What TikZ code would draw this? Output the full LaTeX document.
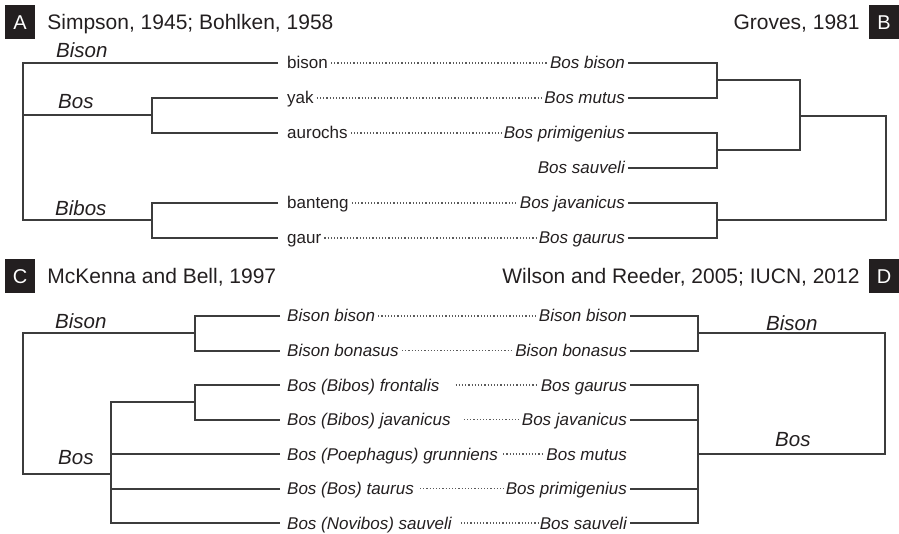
\documentclass[tikz,border=0pt]{standalone}
\usepackage{fontspec}
\setmainfont{Liberation Sans}
\usetikzlibrary{positioning}

\definecolor{boxgray}{HTML}{231F20}
\definecolor{treegray}{HTML}{3C3C3C}
\definecolor{dotgray}{HTML}{5A5A5A}

\tikzset{
  common/.style={font=\fontsize{17}{20}\selectfont, inner sep=0pt, text height=12pt, text depth=0pt, text=boxgray},
  leaf/.style={common, font=\fontsize{17}{20}\selectfont\itshape},
  clade/.style={font=\fontsize{20.5}{24}\selectfont\itshape, inner sep=0pt, text depth=0pt, anchor=south west, text=boxgray},
  title/.style={font=\fontsize{21}{24}\selectfont, inner sep=0pt, text height=15pt, text depth=0pt, text=boxgray},
  panel/.style={fill=boxgray, text=white, minimum width=30pt, minimum height=34pt, inner sep=0pt, font=\fontsize{20}{24}\selectfont},
  branch/.style={draw=treegray, line width=2pt},
  link/.style={draw=dotgray, line width=1.3pt, dash pattern=on 1.2pt off 2pt, shorten <=3pt, shorten >=2pt}
}

\begin{document}
\begin{tikzpicture}[x=1pt, y=-1pt, node distance=9pt]
    \useasboundingbox (0,0) rectangle (899,534);

    % panel headers
    \node[panel] (boxA) at (20,22.5) {A};
    \node[title, right=12pt of boxA] (refA) {Simpson, 1945; Bohlken, 1958};
    \node[panel] (boxB) at (884,22.5) {B};
    \node[title, left=9pt of boxB] (refB) {Groves, 1981};
    \node[panel] (boxC) at (20,276.5) {C};
    \node[title, right=12pt of boxC] (refC) {McKenna and Bell, 1997};
    \node[panel] (boxD) at (884,276.5) {D};
    \node[title, left=9pt of boxD] (refD) {Wilson and Reeder, 2005; IUCN, 2012};

    % panel A, left tree
    \coordinate (tA1) at (278,63);
    \coordinate (tA2) at (278,98);
    \coordinate (tA3) at (278,133);
    \coordinate (tA4) at (278,203);
    \coordinate (tA5) at (278,238);
    \coordinate (jAbos) at (152,115.5);
    \coordinate (jAbib) at (152,220.5);
    \coordinate (jAroot) at (23,115.5);
    \node[common, right=of tA1] (bison) {bison};
    \node[common, right=of tA2] (yak) {yak};
    \node[common, right=of tA3] (aurochs) {aurochs};
    \node[common, right=of tA4] (banteng) {banteng};
    \node[common, right=of tA5] (gaur) {gaur};
    \draw[branch] (tA2) -| (jAbos) |- (tA3);
    \draw[branch] (tA4) -| (jAbib) |- (tA5);
    \draw[branch] (tA1) -| (jAroot) |- (jAbib);
    \draw[branch] (jAroot) -- (jAbos);
    \node[clade] (cAbison) at (56,57.5) {Bison};
    \node[clade] (cAbos) at (58,108.5) {Bos};
    \node[clade] (cAbibos) at (55,216) {Bibos};

    % panel B, right tree
    \coordinate (tB1) at (628,63);
    \coordinate (tB2) at (628,98);
    \coordinate (tB3) at (628,133);
    \coordinate (tB4) at (628,168);
    \coordinate (tB5) at (628,203);
    \coordinate (tB6) at (628,238);
    \coordinate (jB12) at (717,80.5);
    \coordinate (jB34) at (717,150.5);
    \coordinate (jB56) at (717,220.5);
    \coordinate (jBbos) at (800,116);
    \coordinate (jBroot) at (886,168);
    \node[leaf, left=3pt of tB1] (gBison) {Bos bison};
    \node[leaf, left=3pt of tB2] (gMutus) {Bos mutus};
    \node[leaf, left=3pt of tB3] (gPrimi) {Bos primigenius};
    \node[leaf, left=3pt of tB4] (gSauveli) {Bos sauveli};
    \node[leaf, left=3pt of tB5] (gJavan) {Bos javanicus};
    \node[leaf, left=3pt of tB6] (gGaurus) {Bos gaurus};
    \draw[branch] (tB1) -| (jB12) |- (tB2);
    \draw[branch] (tB3) -| (jB34) |- (tB4);
    \draw[branch] (tB5) -| (jB56) |- (tB6);
    \draw[branch] (jB12) -| (jBbos) |- (jB34);
    \draw[branch] (jBbos) -| (jBroot) |- (jB56);

    \path (bison) edge[link] (gBison)
          (yak) edge[link] (gMutus)
          (aurochs) edge[link] (gPrimi)
          (banteng) edge[link] (gJavan)
          (gaur) edge[link] (gGaurus);

    % panel C, left tree
    \coordinate (tC1) at (280,316);
    \coordinate (tC2) at (280,350.5);
    \coordinate (tC3) at (280,385);
    \coordinate (tC4) at (280,419.5);
    \coordinate (tC5) at (280,454);
    \coordinate (tC6) at (280,488.5);
    \coordinate (tC7) at (280,523);
    \coordinate (jCbis) at (195,333.25);
    \coordinate (jCbib) at (195,402.25);
    \coordinate (jCbos) at (111,474);
    \coordinate (jCroot) at (23,400);
    \node[leaf, right=7pt of tC1] (mBison) {Bison bison};
    \node[leaf, right=7pt of tC2] (mBonasus) {Bison bonasus};
    \node[leaf, right=7pt of tC3] (mFrontalis) {Bos (Bibos) frontalis};
    \node[leaf, right=7pt of tC4] (mJavan) {Bos (Bibos) javanicus};
    \node[leaf, right=7pt of tC5] (mGrunn) {Bos (Poephagus) grunniens};
    \node[leaf, right=7pt of tC6] (mTaurus) {Bos (Bos) taurus};
    \node[leaf, right=7pt of tC7] (mSauveli) {Bos (Novibos) sauveli};
    \draw[branch] (tC1) -| (jCbis) |- (tC2);
    \draw[branch] (tC3) -| (jCbib) |- (tC4);
    \draw[branch] (jCbib) -| (jCbos) |- (tC7);
    \draw[branch] (tC5) -- (tC5 -| jCbos);
    \draw[branch] (tC6) -- (tC6 -| jCbos);
    \draw[branch] (jCbis) -| (jCroot) |- (jCbos);
    \node[clade] (cCbison) at (55,329) {Bison};
    \node[clade] (cCbos) at (58,465) {Bos};

    % panel D, right tree
    \coordinate (tD1) at (630,316);
    \coordinate (tD2) at (630,350.5);
    \coordinate (tD3) at (630,385);
    \coordinate (tD4) at (630,419.5);
    \coordinate (tD5) at (630,454);
    \coordinate (tD6) at (630,488.5);
    \coordinate (tD7) at (630,523);
    \coordinate (jDbis) at (698,333.25);
    \coordinate (jDbos) at (698,454);
    \coordinate (jDroot) at (885,400);
    \node[leaf, left=3pt of tD1] (wBison) {Bison bison};
    \node[leaf, left=3pt of tD2] (wBonasus) {Bison bonasus};
    \node[leaf, left=3pt of tD3] (wGaurus) {Bos gaurus};
    \node[leaf, left=3pt of tD4] (wJavan) {Bos javanicus};
    \node[leaf, left=3pt of tD5] (wMutus) {Bos mutus};
    \node[leaf, left=3pt of tD6] (wPrimi) {Bos primigenius};
    \node[leaf, left=3pt of tD7] (wSauveli) {Bos sauveli};
    \draw[branch] (tD1) -| (jDbis) |- (tD2);
    \draw[branch] (tD3) -| (jDbos) |- (tD7);
    \draw[branch] (tD4) -- (tD4 -| jDbos);
    \draw[branch] (tD6) -- (tD6 -| jDbos);
    \draw[branch] (jDbis) -| (jDroot) |- (jDbos);
    \node[clade] (cDbison) at (766,331) {Bison};
    \node[clade] (cDbos) at (775,447) {Bos};

    \path (mBison) edge[link] (wBison)
          (mBonasus) edge[link] (wBonasus)
          (mFrontalis) edge[link, shorten <=16pt] (wGaurus)
          (mJavan) edge[link, shorten <=13pt] (wJavan)
          (mGrunn) edge[link, shorten <=5pt] (wMutus)
          (mTaurus) edge[link, shorten <=6pt] (wPrimi)
          (mSauveli) edge[link, shorten <=9pt] (wSauveli);
\end{tikzpicture}
\end{document}
